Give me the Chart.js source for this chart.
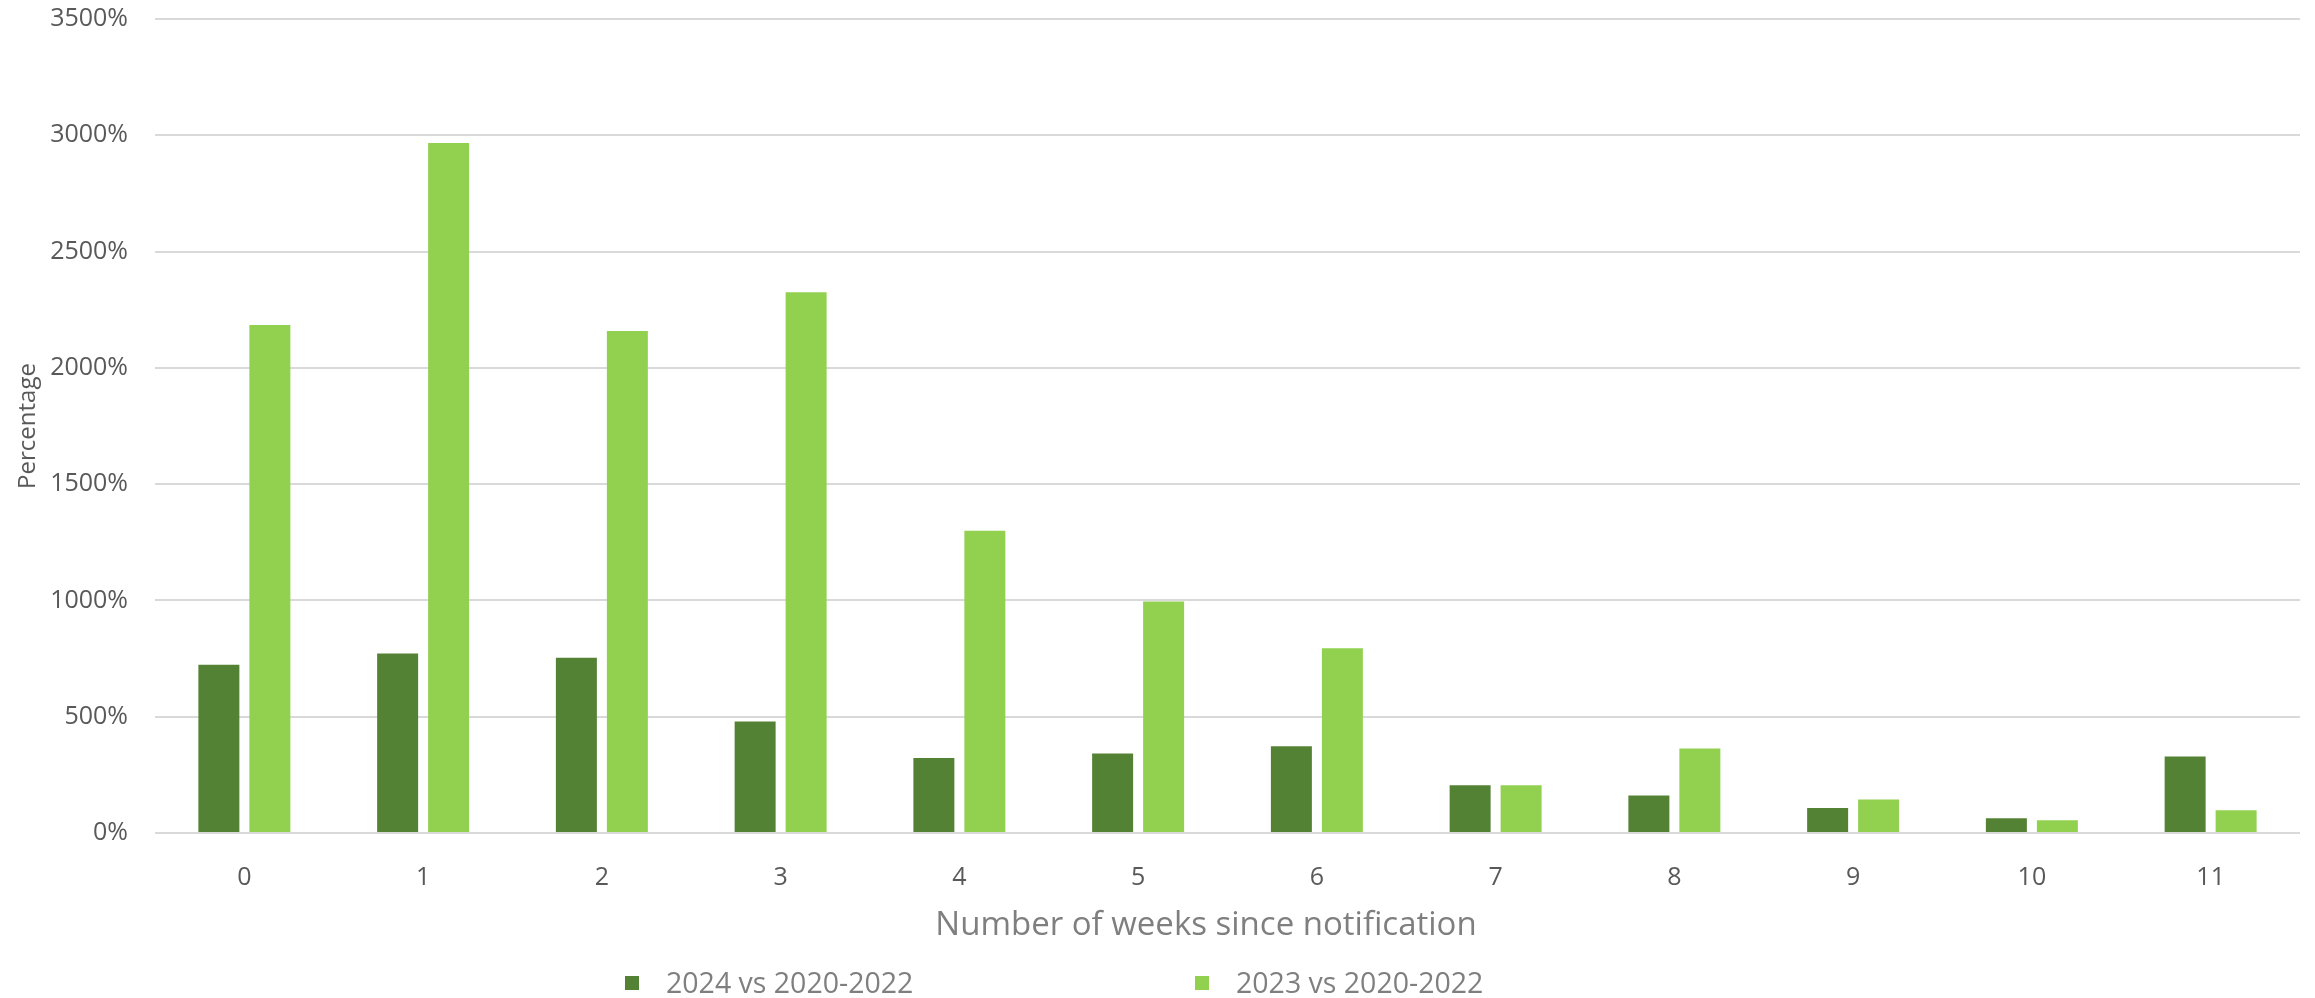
<!DOCTYPE html>
<html>
<head>
<meta charset="utf-8">
<script src="https://cdn.jsdelivr.net/npm/chart.js@4.4.1/dist/chart.umd.min.js"></script>
<style>
  body { margin: 0; background: #fff; }
  #wrap { position: relative; width: 2315px; height: 998px; }
  #xtitle { position: absolute; left: 906px; width: 600px; top: 903px; height: 40px; line-height: 40px; text-align: center; font-family: "Open Sans", sans-serif; font-size: 33px; color: #7f7f7f; white-space: nowrap; }
  #legend { position: absolute; left: 0; top: 962px; width: 2315px; height: 40px; font-family: "Open Sans", sans-serif; font-size: 28.5px; color: #7f7f7f; }
  .item { position: absolute; top: 0; height: 40px; line-height: 40px; white-space: nowrap; }
  .box { display: inline-block; width: 14px; height: 14px; margin-right: 27px; vertical-align: middle; position: relative; top: -2px; }
</style>
</head>
<body>
<div id="wrap">
  <canvas id="my-chart"></canvas>
  <div id="xtitle"></div>
  <div id="legend"></div>
</div>
<script>
const weeks = ['0', '1', '2', '3', '4', '5', '6', '7', '8', '9', '10', '11'];
const series2024 = [723, 772, 754, 479, 322, 342, 373, 205, 161, 108, 63, 329];
const series2023 = [2184, 2967, 2158, 2325, 1300, 995, 794, 205, 363, 144, 55, 98];
const seriesNames = ['2024 vs 2020-2022', '2023 vs 2020-2022'];
const seriesColors = ['#548235', '#92d050'];
const xTitle = 'Number of weeks since notification';
const yTitle = 'Percentage';
const yMax = 3500;
const yStep = 500;

const ctx = document.getElementById('my-chart').getContext('2d');

const chart = new Chart(ctx, {
  type: 'bar',
  data: {
    labels: weeks,
    datasets: [
      { label: seriesNames[0], data: series2024, backgroundColor: seriesColors[0] },
      { label: seriesNames[1], data: series2023, backgroundColor: seriesColors[1] }
    ]
  },
  options: {
    responsive: true,
    maintainAspectRatio: false,
    animation: false,
    categoryPercentage: 0.5705,
    barPercentage: 0.804,
    layout: { padding: { top: 19, right: 15, bottom: 40, left: 0 } },
    plugins: {
      legend: { display: false },
      tooltip: { enabled: false }
    },
    scales: {
      x: {
        grid: { display: false },
        border: { display: false },
        ticks: { color: '#595959', font: { family: 'Open Sans', size: 25 }, padding: 22 },
        afterFit: scale => { scale.height = 125; }
      },
      y: {
        min: 0,
        max: yMax,
        // invisible tick marks give the gap between labels and plot
        grid: { color: '#d9d9d9', lineWidth: 2, drawTicks: true, tickLength: 27, tickColor: 'rgba(0,0,0,0)' },
        border: { display: false },
        ticks: {
          stepSize: yStep,
          color: '#595959',
          font: { family: 'Open Sans', size: 25 },
          padding: 0,
          callback: v => v + '%'
        },
        title: {
          display: true,
          text: yTitle,
          color: '#595959',
          font: { family: 'Open Sans', size: 24 },
          padding: { top: 14, bottom: 0 }
        },
        afterFit: scale => { scale.width = 155; }
      }
    }
  }
});

// x title sits a little left of the plot centre in the original
document.getElementById('xtitle').textContent = xTitle;

// legend in html, spaced like the original
const legendPos = [625, 1195];
const legend = document.getElementById('legend');
seriesNames.forEach((name, i) => {
  const el = document.createElement('div');
  el.className = 'item';
  el.style.left = legendPos[i] + 'px';
  el.innerHTML = '<span class="box" style="background:' + seriesColors[i] + '"></span>' + name;
  legend.appendChild(el);
});
</script>
</body>
</html>
